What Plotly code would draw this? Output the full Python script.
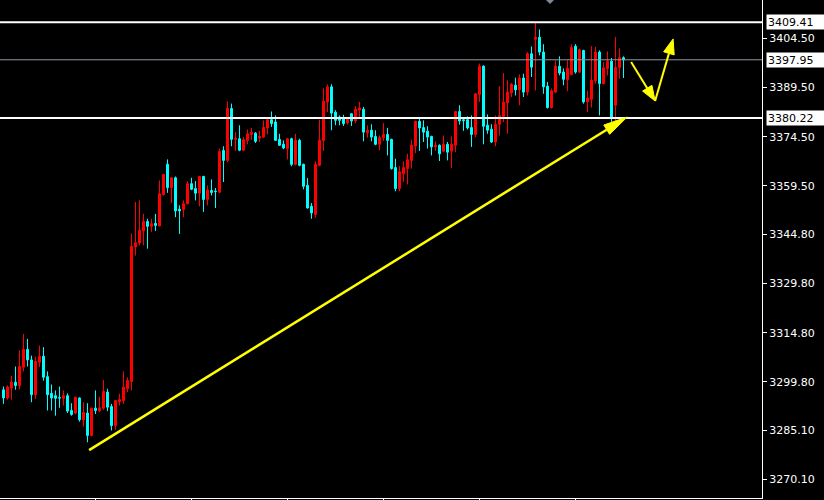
import plotly.graph_objects as go

# ---- data ----
opens = [3297.4, 3294.9, 3297.9, 3299.7, 3298.7, 3304.3, 3309.7, 3306.5, 3295.9, 3305.8,
         3307.6, 3301.4, 3296.3, 3295.6, 3295.0, 3294.8, 3295.6, 3291.1, 3290.3, 3294.9,
         3288.3, 3290.3, 3283.5, 3291.8, 3291.1, 3291.8, 3296.7, 3292.3, 3286.5, 3293.8,
         3294.1, 3297.7, 3299.9, 3340.9, 3342.1, 3345.8, 3348.7, 3347.2, 3348.1, 3347.3,
         3356.9, 3366.1, 3359.0, 3362.0, 3352.4, 3352.3, 3354.1, 3360.2, 3358.7, 3357.3,
         3362.4, 3355.4, 3358.1, 3357.9, 3357.6, 3370.3, 3367.3, 3383.1, 3373.7, 3373.9,
         3370.4, 3373.4, 3375.2, 3375.6, 3374.1, 3374.4, 3377.2, 3379.7, 3379.0, 3373.7,
         3372.2, 3370.9, 3373.9, 3366.1, 3373.4, 3366.1, 3359.7, 3353.3, 3350.8, 3365.8,
         3373.4, 3385.1, 3389.7, 3382.0, 3380.5, 3380.0, 3378.7, 3381.5, 3379.3, 3382.6,
         3382.9, 3375.7, 3376.5, 3374.6, 3372.2, 3374.2, 3375.2, 3373.7, 3365.1, 3358.7,
         3363.2, 3364.8, 3367.3, 3371.7, 3379.2, 3377.3, 3376.2, 3374.6, 3371.4, 3371.9,
         3370.1, 3372.2, 3370.1, 3371.9, 3382.2, 3379.7, 3379.7, 3377.3, 3375.2, 3387.4,
         3396.0, 3378.0, 3376.8, 3372.9, 3378.3, 3380.7, 3384.8, 3387.9, 3390.2, 3388.8,
         3392.4, 3388.1, 3399.8, 3404.2, 3404.8, 3400.3, 3389.9, 3383.4, 3388.1, 3396.0,
         3394.2, 3391.9, 3393.5, 3402.1, 3394.2, 3400.8, 3385.1, 3385.9, 3391.5, 3400.3,
         3390.7, 3395.3, 3397.5, 3384.1, 3395.6, 3398.6]
highs = [3298.4, 3298.7, 3301.7, 3304.5, 3309.4, 3314.4, 3312.9, 3307.8, 3307.5, 3310.9,
         3310.4, 3303.0, 3299.0, 3297.2, 3298.4, 3297.2, 3296.3, 3293.3, 3295.3, 3295.1,
         3293.6, 3293.3, 3291.9, 3297.2, 3295.3, 3300.4, 3297.7, 3293.1, 3294.3, 3296.2,
         3303.0, 3301.2, 3345.0, 3354.6, 3355.1, 3351.0, 3349.5, 3349.5, 3351.0, 3361.2,
         3363.2, 3367.6, 3362.2, 3362.4, 3353.6, 3355.1, 3360.9, 3362.0, 3361.0, 3362.4,
         3362.6, 3359.7, 3361.5, 3358.9, 3370.9, 3371.6, 3385.3, 3384.6, 3375.9, 3378.0,
         3374.4, 3376.7, 3377.2, 3375.9, 3376.3, 3379.5, 3380.5, 3382.2, 3381.0, 3375.4,
         3373.4, 3374.0, 3374.2, 3375.4, 3373.9, 3366.3, 3361.9, 3354.3, 3367.0, 3379.7,
         3389.2, 3390.4, 3390.5, 3382.6, 3381.0, 3381.2, 3380.5, 3381.7, 3383.8, 3385.1,
         3383.6, 3378.0, 3378.3, 3376.5, 3374.9, 3378.7, 3377.2, 3373.9, 3367.8, 3365.5,
         3367.0, 3369.3, 3373.6, 3379.4, 3380.2, 3379.5, 3377.7, 3374.8, 3373.1, 3372.2,
         3374.9, 3372.9, 3374.6, 3382.3, 3384.1, 3380.5, 3380.7, 3381.0, 3387.8, 3396.8,
         3396.3, 3381.3, 3378.3, 3381.0, 3389.9, 3393.9, 3391.7, 3390.9, 3392.5, 3393.5,
         3393.7, 3400.3, 3402.0, 3409.5, 3407.2, 3402.7, 3391.2, 3389.2, 3397.8, 3399.0,
         3395.3, 3397.8, 3402.7, 3402.7, 3401.4, 3401.0, 3388.6, 3402.1, 3401.9, 3400.8,
         3397.3, 3400.5, 3398.5, 3404.9, 3401.4, 3399.0]
lows = [3293.1, 3294.4, 3294.4, 3297.4, 3297.5, 3303.0, 3304.5, 3293.6, 3294.6, 3304.3,
        3300.2, 3291.1, 3291.1, 3289.5, 3291.9, 3292.6, 3290.3, 3289.5, 3289.9, 3287.7,
        3286.2, 3281.4, 3283.2, 3290.0, 3290.6, 3291.3, 3290.9, 3285.0, 3285.2, 3292.6,
        3293.1, 3296.7, 3297.2, 3338.3, 3341.4, 3341.4, 3340.4, 3345.5, 3345.8, 3347.3,
        3356.6, 3357.4, 3354.3, 3350.0, 3344.9, 3350.0, 3353.9, 3358.2, 3355.1, 3353.3,
        3351.6, 3353.6, 3356.6, 3352.8, 3357.3, 3360.7, 3366.8, 3371.6, 3370.2, 3370.1,
        3370.1, 3372.2, 3373.6, 3372.6, 3372.9, 3374.2, 3375.2, 3377.5, 3373.2, 3371.7,
        3370.7, 3367.6, 3365.5, 3365.8, 3365.5, 3358.5, 3352.6, 3349.5, 3349.8, 3365.5,
        3370.2, 3382.0, 3376.5, 3378.0, 3378.0, 3377.8, 3378.2, 3377.8, 3378.7, 3380.3,
        3373.1, 3374.2, 3373.1, 3371.9, 3370.4, 3373.2, 3368.8, 3364.5, 3357.9, 3357.9,
        3360.7, 3360.0, 3364.8, 3369.5, 3370.2, 3372.9, 3370.9, 3368.8, 3370.2, 3367.1,
        3369.8, 3367.3, 3365.0, 3369.8, 3378.2, 3376.3, 3376.7, 3371.4, 3374.4, 3385.1,
        3372.2, 3375.4, 3372.6, 3371.6, 3374.9, 3379.0, 3375.4, 3386.6, 3387.1, 3384.1,
        3386.6, 3387.1, 3392.7, 3388.6, 3399.3, 3387.6, 3383.1, 3383.1, 3387.9, 3393.2,
        3390.2, 3388.4, 3393.2, 3393.7, 3393.9, 3384.6, 3382.0, 3383.4, 3390.7, 3381.0,
        3390.4, 3393.2, 3379.0, 3379.0, 3392.2, 3392.4]
closes = [3294.9, 3298.2, 3299.7, 3298.7, 3304.5, 3309.7, 3306.5, 3295.9, 3306.0, 3307.6,
          3301.2, 3295.9, 3294.9, 3294.8, 3294.9, 3295.6, 3290.9, 3289.9, 3295.1, 3288.3,
          3290.5, 3283.5, 3291.8, 3291.1, 3291.9, 3296.9, 3292.1, 3286.5, 3294.1, 3294.4,
          3298.2, 3300.2, 3341.1, 3342.2, 3346.0, 3348.7, 3347.2, 3348.0, 3347.5, 3357.1,
          3363.0, 3359.0, 3362.0, 3351.9, 3351.9, 3354.1, 3360.2, 3358.5, 3357.3, 3362.4,
          3355.4, 3358.3, 3357.5, 3357.8, 3370.0, 3367.3, 3383.1, 3373.7, 3374.0, 3370.4,
          3373.6, 3375.4, 3375.9, 3373.1, 3374.6, 3377.3, 3379.7, 3378.5, 3373.4, 3371.9,
          3371.1, 3373.9, 3366.1, 3373.4, 3365.8, 3359.4, 3352.8, 3351.3, 3366.1, 3373.4,
          3385.3, 3389.7, 3381.7, 3379.5, 3379.5, 3378.5, 3380.0, 3379.3, 3382.9, 3383.3,
          3375.9, 3376.5, 3374.4, 3372.2, 3374.2, 3375.2, 3373.4, 3364.8, 3358.7, 3363.8,
          3365.1, 3367.5, 3371.9, 3379.2, 3377.2, 3375.9, 3374.4, 3371.4, 3371.9, 3369.3,
          3372.2, 3369.8, 3372.2, 3382.2, 3379.3, 3379.4, 3377.2, 3375.2, 3387.6, 3396.0,
          3377.7, 3376.5, 3372.9, 3378.3, 3381.0, 3385.1, 3388.1, 3390.5, 3388.8, 3392.4,
          3388.1, 3399.8, 3395.7, 3404.8, 3400.3, 3389.7, 3383.4, 3388.5, 3396.0, 3393.9,
          3392.0, 3395.3, 3401.7, 3394.2, 3401.0, 3385.1, 3386.3, 3391.7, 3400.3, 3390.7,
          3395.5, 3397.5, 3380.5, 3395.6, 3398.6, 3397.95]
bar_index = list(range(len(opens)))

price_ticks = [3404.50, 3389.50, 3374.50, 3359.50, 3344.80,
               3329.80, 3314.80, 3299.80, 3285.10, 3270.10]
time_ticks = [23, 47, 71, 95, 119, 143]
level_lines = [3409.41, 3380.22]
current_price = 3397.95

# analyst drawings (bar index, price)
trend_start = (21.4, 3279.0)
trend_tip = (155.9, 3380.5)
zig_start = (156.9, 3397.3)
zig_mid = (162.9, 3385.4)
zig_tip = (167.4, 3404.3)

# ---- layout constants ----
W, H = 824, 500
M_L, M_R, M_T, M_B = 0, 62, 0, 2
PLOT_W = W - M_L - M_R
PLOT_H = H - M_T - M_B
X_RANGE = [-0.875, 189.625]
Y_RANGE = [3264.42, 3416.17]
PX_X = PLOT_W / (X_RANGE[1] - X_RANGE[0])
PX_Y = PLOT_H / (Y_RANGE[1] - Y_RANGE[0])

UP = "#ff0000"
DOWN = "#00ffff"
YELLOW = "#ffff00"

fig = go.Figure()
fig.add_trace(go.Candlestick(
    x=bar_index, open=opens, high=highs, low=lows, close=closes,
    increasing=dict(line=dict(color=UP, width=1), fillcolor=UP),
    decreasing=dict(line=dict(color=DOWN, width=1), fillcolor=DOWN),
    whiskerwidth=0, hoverinfo="skip", showlegend=False,
))

shapes = []
for lv in level_lines:
    shapes.append(dict(type="line", xref="paper", yref="y", x0=0, x1=1, y0=lv, y1=lv,
                       line=dict(color="#ffffff", width=2)))
shapes.append(dict(type="line", xref="paper", yref="y", x0=0, x1=1,
                   y0=current_price, y1=current_price,
                   line=dict(color="#8f99a3", width=1)))


def arrow(p0, p1, head_len, head_half, width):
    ax, ay = p0[0] * PX_X, -p0[1] * PX_Y
    bx, by = p1[0] * PX_X, -p1[1] * PX_Y
    dx, dy = bx - ax, by - ay
    n = (dx * dx + dy * dy) ** 0.5
    ux, uy = dx / n, dy / n
    cx, cy = bx - ux * head_len, by - uy * head_len
    nx, ny = -uy, ux

    def d(px, py):
        return px / PX_X, -py / PX_Y
    base = d(cx, cy)
    q1 = d(cx + nx * head_half, cy + ny * head_half)
    q2 = d(cx - nx * head_half, cy - ny * head_half)
    out = [dict(type="line", xref="x", yref="y", x0=p0[0], y0=p0[1],
                x1=base[0], y1=base[1], line=dict(color=YELLOW, width=width))]
    path = "M{},{} L{},{} L{},{} Z".format(p1[0], p1[1], q1[0], q1[1], q2[0], q2[1])
    out.append(dict(type="path", xref="x", yref="y", path=path,
                    fillcolor=YELLOW, line=dict(color=YELLOW, width=1)))
    return out


shapes += arrow(trend_start, trend_tip, 24, 5.5, 2.5)
shapes += arrow(zig_start, zig_mid, 15, 5.5, 2)
shapes += arrow(zig_mid, zig_tip, 15, 5.5, 2)

# small grey marker at the top edge
shapes.append(dict(type="path", xref="paper", yref="paper",
                   path="M{},{} L{},{} L{},{} Z".format(546 / PLOT_W, 1, 554 / PLOT_W, 1,
                                                        550 / PLOT_W, 1 - 4 / PLOT_H),
                   fillcolor="#7d8997", line=dict(width=0)))

annotations = []
for lv in level_lines + [current_price]:
    annotations.append(dict(
        text="{:.2f}".format(lv), x=1, xref="paper", xanchor="left", xshift=4,
        y=lv, yref="y", yanchor="middle", showarrow=False,
        font=dict(family="DejaVu Sans", size=11, color="#000000"),
        bgcolor="#ffffff", borderpad=1, width=56, height=12, align="left",
    ))

fig.update_layout(
    width=W, height=H, autosize=False,
    margin=dict(l=M_L, r=M_R, t=M_T, b=M_B, pad=0),
    paper_bgcolor="#000000", plot_bgcolor="#000000",
    shapes=shapes, annotations=annotations,
    showlegend=False,
    xaxis=dict(range=X_RANGE, showgrid=False, zeroline=False,
               showline=True, linecolor="#ffffff", linewidth=1,
               ticks="outside", ticklen=3, tickcolor="#ffffff",
               tickvals=time_ticks, showticklabels=False,
               rangeslider=dict(visible=False), fixedrange=True),
    yaxis=dict(range=Y_RANGE, side="right", showgrid=False, zeroline=False,
               showline=True, linecolor="#ffffff", linewidth=1,
               ticks="outside", ticklen=4, tickcolor="#ffffff",
               tickvals=price_ticks, ticktext=["{:.2f}".format(v) for v in price_ticks],
               tickfont=dict(family="DejaVu Sans", size=11, color="#ffffff"),
               fixedrange=True),
)

fig.write_html(
    "out.html",
    config={"displayModeBar": False, "staticPlot": True},
    post_script="document.body.style.margin='0';document.body.style.background='#000';",
)
